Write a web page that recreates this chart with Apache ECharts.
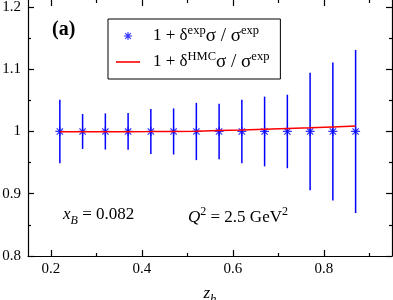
<!DOCTYPE html>
<html>
<head>
<meta charset="utf-8">
<script src="https://cdn.jsdelivr.net/npm/echarts@6/dist/echarts.min.js"></script>
<style>html,body{margin:0;padding:0;background:#fff}#c{width:393px;height:300px}</style>
</head>
<body>
<div id="c"></div>
<script>
// ---- data ----
var zValues   = [0.22, 0.27, 0.32, 0.37, 0.42, 0.47, 0.52, 0.57, 0.62, 0.67, 0.72, 0.77, 0.82, 0.87];
var ratioExp  = [1, 1, 1, 1, 1, 1, 1, 1, 1, 1, 1, 1, 1, 1];
var errExp    = [0.051, 0.028, 0.029, 0.0295, 0.036, 0.037, 0.046, 0.0445, 0.051, 0.056, 0.059, 0.0945, 0.111, 0.131];
var ratioHMC  = [0.9995, 0.9995, 0.9996, 0.9997, 0.9998, 1.0, 1.0005, 1.0015, 1.0025, 1.0036, 1.0048, 1.006, 1.0073, 1.0087];
var xMajorTicks = [0.2, 0.4, 0.6, 0.8];
var xMinorTicks = [0.3, 0.5, 0.7, 0.9];
var yMajorTicks = [0.8, 0.9, 1, 1.1, 1.2];
var yMinorTicks = [0.85, 0.95, 1.05, 1.15];

var FONT = 'Liberation Serif';
var star = 'path://M43 0H57V100H43Z M0 43H100V57H0Z M20 10L90 80L80 90L10 20Z M80 10L90 20L20 90L10 80Z';
var lineIcon = 'path://M0 0H24V1.6H0Z';

var expPts = zValues.map(function (z, i) { return [z, ratioExp[i]]; });
var errPts = zValues.map(function (z, i) { return [z, ratioExp[i] - errExp[i], ratioExp[i] + errExp[i]]; });
var hmcPts = zValues.map(function (z, i) { return [z, ratioHMC[i]]; });

var axisCol = '#000';
function fmt(v) { return String(Math.round(v * 10) / 10); }
function xAx(pos, ticks, len, labels) {
  return {
    type: 'value', position: pos, min: 0.15, max: 0.95,
    axisLine: { show: pos === 'bottom' && labels, lineStyle: { color: axisCol, width: 1.2 } },
    axisTick: { show: true, inside: true, length: len, customValues: ticks, lineStyle: { color: axisCol, width: 1.2 } },
    axisLabel: labels ? { show: true, customValues: ticks, formatter: fmt, fontFamily: FONT, fontStyle: 'normal', fontWeight: 'normal', fontSize: 15, color: '#000', margin: 6 } : { show: false },
    splitLine: { show: false }
  };
}
function yAx(pos, ticks, len, labels) {
  return {
    type: 'value', position: pos, min: 0.8, max: 1.2112,
    axisLine: { show: labels || (pos === 'right' && len > 4), lineStyle: { color: axisCol, width: 1.2 } },
    axisTick: { show: true, inside: true, length: len, customValues: ticks, lineStyle: { color: axisCol, width: 1.2 } },
    axisLabel: labels ? { show: true, customValues: ticks, formatter: fmt, fontFamily: FONT, fontStyle: 'normal', fontWeight: 'normal', fontSize: 15, color: '#000', margin: 7 } : { show: false },
    splitLine: { show: false }
  };
}

var xMain = xAx('bottom', xMajorTicks, 6, true);
xMain.name = '{i|z}{sb|h}';
xMain.nameLocation = 'middle';
xMain.nameGap = 21;
xMain.nameTextStyle = {
  lineHeight: 24,
  rich: {
    i: { fontFamily: FONT, fontStyle: 'italic', fontSize: 17, lineHeight: 24, verticalAlign: 'middle', color: '#000' },
    sb: { fontFamily: FONT, fontStyle: 'italic', fontSize: 13, lineHeight: 13, verticalAlign: 'bottom', color: '#000' }
  }
};

var chart = echarts.init(document.getElementById('c'), null, { renderer: 'canvas' });
chart.setOption({
  animation: false,
  backgroundColor: '#fff',
  textStyle: { fontFamily: FONT },
  grid: { left: 28, right: 1, top: 0, bottom: 44, containLabel: false, outerBoundsMode: 'none' },
  xAxis: [xMain, xAx('bottom', xMinorTicks, 3, false), xAx('top', xMajorTicks, 6, false), xAx('top', xMinorTicks, 3, false)],
  yAxis: [yAx('left', yMajorTicks, 6, true), yAx('left', yMinorTicks, 3, false), yAx('right', yMajorTicks, 6, false), yAx('right', yMinorTicks, 3, false)],
  legend: {
    orient: 'vertical', left: 108, top: 19,
    borderColor: '#000', borderWidth: 1, backgroundColor: '#fff',
    padding: [5, 11, 5, 8],
    itemWidth: 24, itemHeight: 8, itemGap: 2,
    data: [{ name: 'exp', icon: star }, { name: 'HMC', icon: lineIcon }],
    formatter: function (n) {
      return n === 'exp' ? '1 + δ{s|exp}{g|σ / σ}{s|exp}' : '1 + δ{s|HMC}{g|σ / σ}{s|exp}';
    },
    textStyle: {
      fontFamily: FONT, fontSize: 17, color: '#000', lineHeight: 24, padding: [0, 0, 0, 8],
      rich: {
        s: { fontFamily: FONT, fontSize: 12.5, lineHeight: 12, verticalAlign: 'top', color: '#000' },
        g: { fontFamily: FONT, fontSize: 19, lineHeight: 24, verticalAlign: 'middle', color: '#000' }
      }
    }
  },
  graphic: [
    { type: 'text', left: 52, top: 20, style: { text: '(a)', font: 'bold 20px "Liberation Serif"', fill: '#000' } },
    { type: 'text', left: 63, top: 206, style: {
        text: '{i|x}{sb|B}{n| = 0.082}',
        rich: {
          i: { fontFamily: FONT, fontStyle: 'italic', fontSize: 17, lineHeight: 24, verticalAlign: 'middle', fill: '#000' },
          sb: { fontFamily: FONT, fontStyle: 'italic', fontSize: 12, lineHeight: 12, verticalAlign: 'bottom', fill: '#000' },
          n: { fontFamily: FONT, fontSize: 17, lineHeight: 24, verticalAlign: 'middle', fill: '#000' }
        } } },
    { type: 'text', left: 188, top: 206, style: {
        text: '{i|Q}{sp|2}{n| = 2.5 GeV}{sp|2}',
        rich: {
          i: { fontFamily: FONT, fontStyle: 'italic', fontSize: 17, lineHeight: 24, verticalAlign: 'middle', fill: '#000' },
          sp: { fontFamily: FONT, fontSize: 12, lineHeight: 12, verticalAlign: 'top', fill: '#000' },
          n: { fontFamily: FONT, fontSize: 17, lineHeight: 24, verticalAlign: 'middle', fill: '#000' }
        } } }
  ],
  series: [
    {
      type: 'custom', name: 'err', xAxisIndex: 0, yAxisIndex: 0, z: 2,
      data: errPts,
      renderItem: function (params, api) {
        var p1 = api.coord([api.value(0), api.value(1)]);
        var p2 = api.coord([api.value(0), api.value(2)]);
        return { type: 'line', shape: { x1: p1[0], y1: p1[1], x2: p2[0], y2: p2[1] }, style: { stroke: '#0000ff', lineWidth: 1.5 } };
      }
    },
    {
      type: 'scatter', name: 'exp', xAxisIndex: 0, yAxisIndex: 0, z: 3,
      symbol: star, symbolSize: 9, symbolKeepAspect: true,
      itemStyle: { color: '#0000ff' },
      data: expPts
    },
    {
      type: 'line', name: 'HMC', xAxisIndex: 0, yAxisIndex: 0, z: 4,
      symbol: 'none', showSymbol: false,
      lineStyle: { color: '#ff0000', width: 1.5 },
      itemStyle: { color: '#ff0000' },
      data: hmcPts
    }
  ]
});
</script>
</body>
</html>
